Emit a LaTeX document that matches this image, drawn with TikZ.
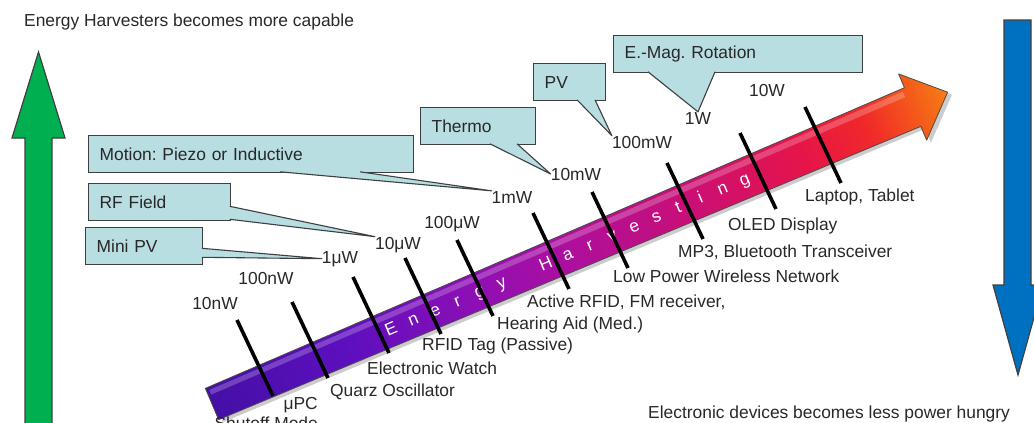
\documentclass[tikz,border=0pt]{standalone}
\usepackage{fontspec}
\setmainfont{Liberation Sans}
\usetikzlibrary{calc}
\frenchspacing
\definecolor{callfill}{RGB}{185,222,226}
\definecolor{callline}{RGB}{60,64,66}
\definecolor{upgreen}{RGB}{0,176,80}
\definecolor{downblue}{RGB}{0,112,192}
\definecolor{txt}{RGB}{40,40,40}
\pgfdeclarehorizontalshading{harvest}{100bp}{rgb(0bp)=(0.27,0.06,0.65); rgb(25bp)=(0.27,0.06,0.65); rgb(34.5bp)=(0.37,0.06,0.75); rgb(42.5bp)=(0.55,0.06,0.71); rgb(48.5bp)=(0.67,0.06,0.63); rgb(58bp)=(0.80,0.06,0.45); rgb(65bp)=(0.90,0.08,0.29); rgb(69.5bp)=(0.94,0.16,0.16); rgb(73bp)=(0.96,0.37,0.10); rgb(75bp)=(0.96,0.49,0.08); rgb(100bp)=(0.96,0.49,0.08)}

\begin{document}
\begin{tikzpicture}[x=1pt,y=-1pt,font=\fontsize{17.4}{20}\selectfont,
    lbl/.style={inner sep=0pt,text=txt},
    callbox/.style={draw=callline,fill=callfill,line width=1.3pt,minimum height=37pt,inner xsep=11pt,anchor=north west,text=txt,align=left},
    tailwedge/.style={draw=callline,fill=callfill,line width=1.1pt,line join=round},
    tickline/.style={line width=3.6pt,black}]
    \useasboundingbox (0,0) rectangle (1034,423);
    % side arrows
    \filldraw[fill=upgreen,draw=black!75,line width=1.2pt] (25,430) -- (25,138) -- (12,138) -- (38.5,52) -- (65,138) -- (52,138) -- (52,430) -- cycle;
    \filldraw[fill=downblue,draw=black!75,line width=1.2pt] (1004,20) -- (1031,20) -- (1031,285) -- (1043,285) -- (1018,375) -- (993,285) -- (1004,285) -- cycle;
    \node[lbl,anchor=base west] (top) at (24,27) {Energy Harvesters becomes more capable};
    \node[lbl,anchor=base west] (bottom) at (648,418) {Electronic devices becomes less power hungry};
    % big arrow
    \begin{scope}[transform canvas={shift={(212,404)},rotate=22.97}]
        \fill[black,opacity=.2] (3,-13) -- (764,-17) -- (764,-32) -- (802,4) -- (764,40) -- (764,25) -- (3,21) -- cycle;
        \shadedraw[shading=harvest,draw=black!70,line width=.8pt,line join=round]
            (0,-17) -- (761,-21) -- (761,-36) -- (799,0) -- (761,36) -- (761,21) -- (0,17) -- cycle;
        \fill[white,opacity=.22] (3,-14) -- (758,-18) -- (758,-12) -- (3,-9) -- cycle;
        \foreach \ltr [count=\i from 0] in {E,n,e,r,g,y,{},H,a,r,v,e,s,t,i,n,g}
            \node[white,anchor=base,inner sep=0pt] (c\i) at (194+24*\i,6.5) {\ltr};
    \end{scope}
    \foreach \x/\y in {237/320,292/302,353/277,405/258,457/240,533/213,592/192,667/163,740/133,805/107}
        \draw[tickline] (\x,\y) -- ++(36,76);
    % power levels
    \node[lbl,anchor=base] (p1) at (215,309) {10nW};
    \node[lbl,anchor=base] (p2) at (266,284) {100nW};
    \node[lbl,anchor=base] (p3) at (340,263) {1μW};
    \node[lbl,anchor=base] (p4) at (398,249) {10μW};
    \node[lbl,anchor=base] (p5) at (452,228) {100μW};
    \node[lbl,anchor=base] (p6) at (512,203) {1mW};
    \node[lbl,anchor=base] (p7) at (576,180) {10mW};
    \node[lbl,anchor=base] (p8) at (642,148) {100mW};
    \node[lbl,anchor=base] (p9) at (698,124) {1W};
    \node[lbl,anchor=base] (p10) at (767,96) {10W};
    % devices
    \node[lbl,anchor=north east,align=right] (d1) at (318,397) {μPC\\Shutoff Mode};
    \node[lbl,anchor=base west] (d2) at (330,396) {Quarz Oscillator};
    \node[lbl,anchor=base west] (d3) at (367,374) {Electronic Watch};
    \node[lbl,anchor=base west] (d4) at (422,350) {RFID Tag (Passive)};
    \node[lbl,anchor=base west] (d5) at (497,329) {Hearing Aid (Med.)};
    \node[lbl,anchor=base west] (d6) at (527,307) {Active RFID, FM receiver,};
    \node[lbl,anchor=base west] (d7) at (613,282) {Low Power Wireless Network};
    \node[lbl,anchor=base west] (d8) at (678,257) {MP3, Bluetooth Transceiver};
    \node[lbl,anchor=base west] (d9) at (728,230) {OLED Display};
    \node[lbl,anchor=base west] (d10) at (805,201) {Laptop, Tablet};
    % harvesters
    \node[callbox,text width=303pt] (motion) at (88,135) {Motion: Piezo or Inductive};
    \node[callbox,text width=120pt] (rf) at (88,183) {RF Field};
    \node[callbox,text width=95pt] (minipv) at (85,227) {Mini PV};
    \node[callbox,text width=93pt] (thermo) at (420,107) {Thermo};
    \node[callbox,text width=50pt] (pv) at (533,63) {PV};
    \node[callbox,text width=227pt] (emag) at (613,35) {E.-Mag. Rotation};
    \filldraw[tailwedge] ($(minipv.south east)+(-1.5,-17)$) -- (p3.west) -- ($(minipv.south east)+(-1.5,-8)$);
    \filldraw[tailwedge] ($(rf.south east)+(-1.5,-15)$) -- (p4.north west) -- ($(rf.south east)+(-1.5,-2)$);
    \filldraw[tailwedge] ($(motion.south west)+(192,-1.5)$) -- (p6.north west) -- ($(motion.south west)+(272,-1.5)$);
    \filldraw[tailwedge] ($(thermo.south west)+(70,-1.5)$) -- (p7.west) -- ($(thermo.south west)+(97,-1.5)$);
    \filldraw[tailwedge] ($(pv.south west)+(44,-1.5)$) -- (p8.north west) -- ($(pv.south west)+(62,-1.5)$);
    \filldraw[tailwedge] ($(emag.south west)+(35,-1.5)$) -- (p9.north) -- ($(emag.south west)+(102,-1.5)$);
\end{tikzpicture}
\end{document}
